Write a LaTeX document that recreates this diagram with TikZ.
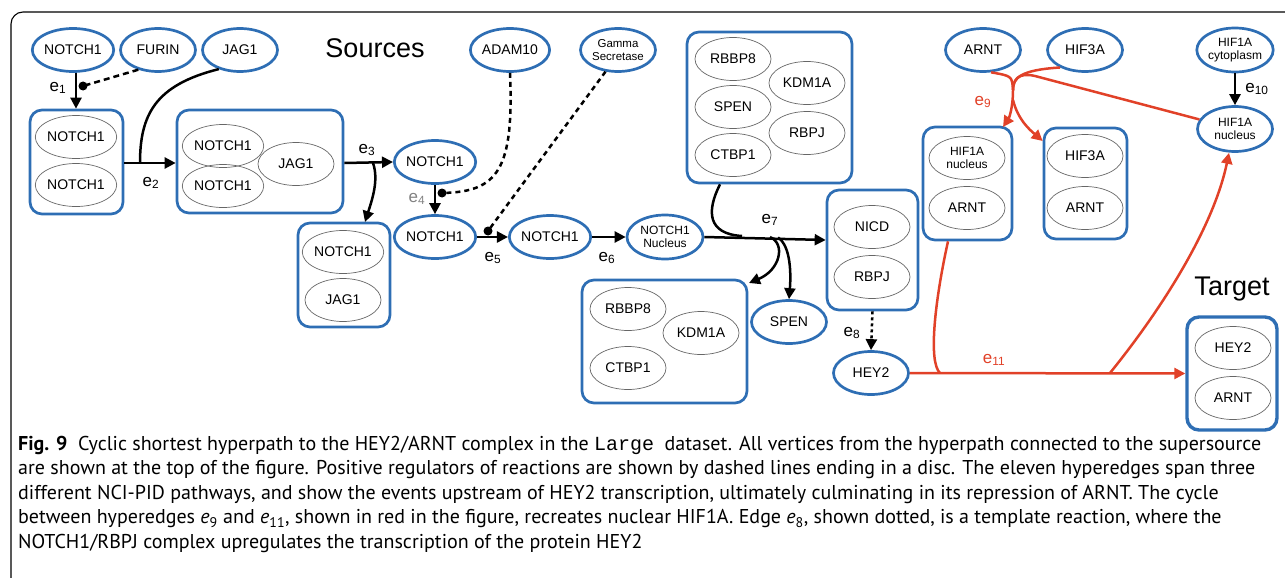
\documentclass[tikz,border=0pt]{standalone}
\usepackage{fontspec}
\setmainfont{Liberation Sans}
\newfontfamily\capfont{PT Sans}
\newfontfamily\capmono{Liberation Mono}
\usetikzlibrary{shapes.geometric,arrows.meta}
\definecolor{myblue}{RGB}{46,110,180}
\definecolor{myred}{RGB}{225,65,40}
\definecolor{labgray}{RGB}{130,130,130}
\begin{document}
\begin{tikzpicture}[x=1pt,y=-1pt,
  src/.style={ellipse, draw=myblue, line width=2.7pt, minimum width=75pt, minimum height=43pt, inner sep=0pt, font=\fontsize{14}{16}\selectfont, align=center},
  srcsmall/.style={src, font=\fontsize{12}{13.5}\selectfont},
  inel/.style={ellipse, draw=black!60, line width=0.7pt, minimum width=76pt, minimum height=43pt, inner sep=0pt, font=\fontsize{14}{16}\selectfont, align=center},
  inelsmall/.style={inel, font=\fontsize{12}{13.5}\selectfont},
  cbox/.style={draw=myblue, line width=2.7pt, rounded corners=12pt, inner sep=0pt},
  arr/.style={line width=2.5pt, -{Triangle[length=11pt,width=11pt]}},
  ln/.style={line width=2.5pt},
  rarr/.style={line width=2.5pt, draw=myred, -{Triangle[length=11pt,width=11pt]}},
  rln/.style={line width=2.5pt, draw=myred},
  reg/.style={line width=2.5pt, dash pattern=on 6pt off 4pt},
  disc/.style={circle, fill=black, inner sep=0pt, minimum size=9pt},
  elab/.style={font=\fontsize{17}{19}\selectfont, inner sep=0pt},
  title/.style={font=\fontsize{27}{30}\selectfont, inner sep=0pt}
]
\useasboundingbox (0,0) rectangle (1285,578);
% frame
\draw[line width=1.1pt] (1290,12) -- (23,12) to[out=180,in=90] (11,24) -- (11,580);

% titles
\node[title] (tsrc) at (375,48) {Sources};
\node[title] (ttgt) at (1232,289) {Target};

% source nodes
\node[src] (n1) at (73,50) {NOTCH1};
\node[src] (furin) at (158,50) {FURIN};
\node[src] (jag1) at (240,50) {JAG1};
\node[src] (adam) at (510,50) {ADAM10};
\node[src, font=\fontsize{11.5}{13}\selectfont] (gamma) at (618,50) {Gamma\\Secretase};
\node[src] (arnts) at (983,50) {ARNT};
\node[src] (hif3as) at (1085,50) {HIF3A};
\node[srcsmall, minimum height=44pt] (hifcyt) at (1235,50) {HIF1A\\cytoplasm};
\node[srcsmall, minimum height=45pt] (hifnuc) at (1235,129) {HIF1A\\nucleus};

% chain nodes
\node[src] (n1b) at (435,162) {NOTCH1};
\node[src] (n1c) at (435,237) {NOTCH1};
\node[src] (n1d) at (550,237) {NOTCH1};
\node[srcsmall, minimum width=76pt, minimum height=44pt] (nucl) at (665,237) {NOTCH1\\Nucleus};
\node[src] (spen) at (789,322) {SPEN};
\node[src] (hey2) at (871,373) {HEY2};

% complexes
\node[cbox, minimum width=93pt, minimum height=104pt] (b1) at (76.5,162) {};
\node[inel] (b1a) at (76,137) {NOTCH1};
\node[inel] (b1b) at (76,185) {NOTCH1};

\node[cbox, minimum width=166pt, minimum height=103pt] (b2) at (260,161.5) {};
\node[inel] (b2a) at (223,146) {NOTCH1};
\node[inel] (b2b) at (223,186) {NOTCH1};
\node[inel] (b2c) at (296,164) {JAG1};

\node[cbox, minimum width=92pt, minimum height=104pt] (b3) at (344,275) {};
\node[inel] (b3a) at (343,252) {NOTCH1};
\node[inel] (b3b) at (343,300) {JAG1};

\node[cbox, minimum width=165pt, minimum height=151pt] (b4) at (769.5,107.5) {};
\node[inel] (b4a) at (733,59) {RBBP8};
\node[inel] (b4b) at (807,83) {KDM1A};
\node[inel] (b4c) at (733,107) {SPEN};
\node[inel] (b4d) at (807,133) {RBPJ};
\node[inel] (b4e) at (733,155) {CTBP1};

\node[cbox, minimum width=165pt, minimum height=123pt] (b5) at (664.5,341.5) {};
\node[inel] (b5a) at (628,309) {RBBP8};
\node[inel] (b5b) at (701,333) {KDM1A};
\node[inel] (b5c) at (628,368) {CTBP1};

\node[cbox, minimum width=91pt, minimum height=120pt] (b6) at (872.5,250) {};
\node[inel] (b6a) at (872,227) {NICD};
\node[inel] (b6b) at (872,277) {RBPJ};

\node[cbox, minimum width=89pt, minimum height=113pt] (b7) at (967.5,183.5) {};
\node[inelsmall] (b7a) at (967,158) {HIF1A\\nucleus};
\node[inel] (b7b) at (967,208) {ARNT};

\node[cbox, minimum width=83pt, minimum height=111pt] (b8) at (1085.5,183.5) {};
\node[inel] (b8a) at (1085,156) {HIF3A};
\node[inel] (b8b) at (1085,208) {ARNT};

\node[cbox, line width=3.4pt, minimum width=90pt, minimum height=113pt] (b9) at (1232,373.5) {};
\node[inel] (b9a) at (1233,348) {HEY2};
\node[inel] (b9b) at (1233,398) {ARNT};

% e1
\draw[arr] (n1.south -| 76,0) -- (76,0 |- b1.north);
\coordinate (d1) at (83,86);
\draw[reg] (furin.225) -- (d1);
\node[disc] (dd1) at (d1) {};
\node[elab] (l1) at (58,88) {e\textsubscript{1}};

% e2
\draw[arr] (b1.east |- 0,163) -- (b2.west |- 0,163);
\coordinate (j2) at (140,163);
\draw[ln] (jag1.222) .. controls (155,85) and (140,115) .. (j2);
\node[elab] (l2) at (151,183) {e\textsubscript{2}};

% e3
\coordinate (j3) at (373,163);
\draw[arr] (b2.east |- 0,163) -- (n1b.west);
\draw[arr] (j3) .. controls (379,180) and (372,200) .. (365,222);
\node[elab] (l3) at (367,150) {e\textsubscript{3}};

% e4
\draw[arr] (n1b.south) -- (n1c.north);
\coordinate (d4) at (442,193);
\draw[reg, dash pattern=on 5pt off 4pt] (adam.south) .. controls (514,170) and (498,192) .. (d4);
\node[disc] (dd4) at (d4) {};
\node[elab, text=labgray] (l4) at (417,199) {e\textsubscript{4}};

% e5
\draw[arr] (n1c.east) -- (n1d.west);
\coordinate (d5) at (488,231);
\draw[reg, dash pattern=on 5pt off 4pt] (gamma.240) -- (d5);
\node[disc] (dd5) at (d5) {};
\node[elab] (l5) at (493,258) {e\textsubscript{5}};

% e6
\draw[arr] (n1d.east) -- (nucl.west);
\node[elab] (l6) at (607,258) {e\textsubscript{6}};

% e7
\coordinate (j7) at (742,236);
\draw[arr] (nucl.east) -- (b6.west |- 0,240);
\draw[ln] (b4.south -| 720,0) .. controls (706,212) and (708,234) .. (j7);
\coordinate (j7a) at (770,237);
\coordinate (j7b) at (778,237.5);
\draw[arr] (j7a) .. controls (786,244) and (780,270) .. (749,283);
\draw[arr] (j7b) .. controls (791,246) and (791,275) .. (spen.north);
\node[elab] (l7) at (770,220) {e\textsubscript{7}};

% e8
\draw[arr, dash pattern=on 3pt off 3pt] (b6.south) -- (hey2.north);
\node[elab] (l8) at (852,333) {e\textsubscript{8}};

% e9 (red)
\coordinate (j9) at (1013,90);
\draw[rln] (arnts.290) .. controls (1012,76) .. (j9);
\draw[rln] (hif3as.215) .. controls (1020,70) and (1013,78) .. (j9);
\draw[rln] (hifnuc.165) -- (1035,76) .. controls (1018,72) and (1013,80) .. (j9);
\draw[rarr] (j9) .. controls (1013,108) and (1009,118) .. (1003,127);
\draw[rarr] (1013,100) .. controls (1018,120) and (1030,130) .. (b8.north west |- 0,141);
\node[elab, text=myred] (l9) at (983,102) {e\textsubscript{9}};

% e10
\draw[arr] (hifcyt.south) -- (hifnuc.north);
\node[elab] (l10) at (1257,89) {e\textsubscript{10}};

% e11 (red)
\coordinate (j11) at (940,373);
\coordinate (j11b) at (1110,373);
\draw[rarr] (hey2.east) -- (b9.west);
\draw[rln] (b7.south -| 948,0) .. controls (935,300) and (928,362) .. (j11);
\draw[rarr] (j11b) .. controls (1165,305) and (1214,225) .. (hifnuc.south -| 1229,0);
\node[elab, text=myred] (l11) at (994,360) {e\textsubscript{11}};

% caption
\node[anchor=north west, inner sep=0pt, align=left, font=\capfont\fontsize{20}{24.5}\selectfont] (cap) at (18,436)
{\textbf{Fig. 9}\ \ Cyclic shortest hyperpath to the HEY2/ARNT complex in the {\capmono Large}\ \ dataset. All vertices from the hyperpath connected to the supersource\\
are shown at the top of the figure. Positive regulators of reactions are shown by dashed lines ending in a disc. The eleven hyperedges span three\\
different NCI-PID pathways, and show the events upstream of HEY2 transcription, ultimately culminating in its repression of ARNT. The cycle\\
between hyperedges \textit{e}\textsubscript{9} and \textit{e}\textsubscript{11}, shown in red in the figure, recreates nuclear HIF1A. Edge \textit{e}\textsubscript{8}, shown dotted, is a template reaction, where the\\
NOTCH1/RBPJ complex upregulates the transcription of the protein HEY2};
\end{tikzpicture}
\end{document}
